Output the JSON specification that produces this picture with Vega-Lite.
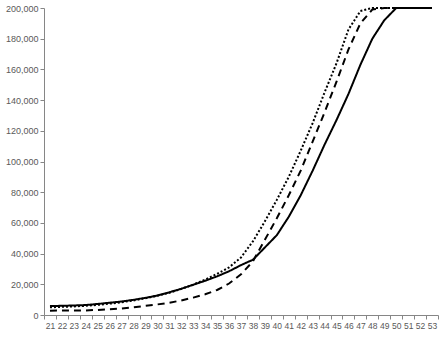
{
  "$schema": "https://vega.github.io/schema/vega-lite/v6.json",
  "width": 394,
  "height": 307,
  "autosize": {"type": "none"},
  "padding": {"left": 44, "top": 8, "right": 3, "bottom": 23},
  "background": "white",
  "config": {
    "view": {"stroke": null},
    "axis": {"labelFont": "Liberation Sans", "labelColor": "#595959", "domainColor": "#868686", "tickColor": "#868686", "grid": false, "title": null}
  },
  "datasets": {
    "d": [
      {"age":21,"s":"A","v":5800},{"age":22,"s":"A","v":6000},{"age":23,"s":"A","v":6200},{"age":24,"s":"A","v":6500},{"age":25,"s":"A","v":7200},{"age":26,"s":"A","v":8000},{"age":27,"s":"A","v":8800},{"age":28,"s":"A","v":9900},{"age":29,"s":"A","v":11200},{"age":30,"s":"A","v":12700},{"age":31,"s":"A","v":14800},{"age":32,"s":"A","v":17100},{"age":33,"s":"A","v":19700},{"age":34,"s":"A","v":22300},{"age":35,"s":"A","v":25200},{"age":36,"s":"A","v":28500},{"age":37,"s":"A","v":32500},{"age":38,"s":"A","v":36000},{"age":39,"s":"A","v":44000},{"age":40,"s":"A","v":52000},{"age":41,"s":"A","v":64000},{"age":42,"s":"A","v":78000},{"age":43,"s":"A","v":94000},{"age":44,"s":"A","v":111000},{"age":45,"s":"A","v":127000},{"age":46,"s":"A","v":144000},{"age":47,"s":"A","v":163000},{"age":48,"s":"A","v":180000},{"age":49,"s":"A","v":192000},{"age":50,"s":"A","v":200000},{"age":51,"s":"A","v":200000},{"age":52,"s":"A","v":200000},{"age":53,"s":"A","v":200000},
      {"age":21,"s":"B","v":2800},{"age":22,"s":"B","v":2900},{"age":23,"s":"B","v":3000},{"age":24,"s":"B","v":3000},{"age":25,"s":"B","v":3300},{"age":26,"s":"B","v":3700},{"age":27,"s":"B","v":4200},{"age":28,"s":"B","v":5000},{"age":29,"s":"B","v":6000},{"age":30,"s":"B","v":6900},{"age":31,"s":"B","v":8000},{"age":32,"s":"B","v":9500},{"age":33,"s":"B","v":11300},{"age":34,"s":"B","v":13500},{"age":35,"s":"B","v":16300},{"age":36,"s":"B","v":20500},{"age":37,"s":"B","v":26500},{"age":38,"s":"B","v":35000},{"age":39,"s":"B","v":49000},{"age":40,"s":"B","v":63000},{"age":41,"s":"B","v":78000},{"age":42,"s":"B","v":94000},{"age":43,"s":"B","v":113000},{"age":44,"s":"B","v":132000},{"age":45,"s":"B","v":152000},{"age":46,"s":"B","v":173000},{"age":47,"s":"B","v":190000},{"age":48,"s":"B","v":199000},{"age":49,"s":"B","v":200000},{"age":50,"s":"B","v":200000},{"age":51,"s":"B","v":200000},{"age":52,"s":"B","v":200000},{"age":53,"s":"B","v":200000},
      {"age":21,"s":"C","v":5000},{"age":22,"s":"C","v":5300},{"age":23,"s":"C","v":5600},{"age":24,"s":"C","v":6000},{"age":25,"s":"C","v":6600},{"age":26,"s":"C","v":7400},{"age":27,"s":"C","v":8300},{"age":28,"s":"C","v":9500},{"age":29,"s":"C","v":10900},{"age":30,"s":"C","v":12500},{"age":31,"s":"C","v":14500},{"age":32,"s":"C","v":17000},{"age":33,"s":"C","v":19800},{"age":34,"s":"C","v":23000},{"age":35,"s":"C","v":26800},{"age":36,"s":"C","v":31000},{"age":37,"s":"C","v":37500},{"age":38,"s":"C","v":48000},{"age":39,"s":"C","v":61000},{"age":40,"s":"C","v":75000},{"age":41,"s":"C","v":90000},{"age":42,"s":"C","v":107000},{"age":43,"s":"C","v":125000},{"age":44,"s":"C","v":145000},{"age":45,"s":"C","v":164000},{"age":46,"s":"C","v":186000},{"age":47,"s":"C","v":198000},{"age":48,"s":"C","v":200000},{"age":49,"s":"C","v":200000},{"age":50,"s":"C","v":200000},{"age":51,"s":"C","v":200000},{"age":52,"s":"C","v":200000},{"age":53,"s":"C","v":200000}
    ]
  },
  "data": {"name": "d"},
  "mark": {"type": "line", "color": "black", "strokeWidth": 2, "clip": false},
  "encoding": {
    "x": {
      "field": "age", "type": "ordinal",
      "scale": {"type": "band", "paddingInner": 0, "paddingOuter": 0},
      "axis": {"labelAngle": 0, "tickBand": "extent", "tickSize": 4, "labelPadding": 2, "labelFontSize": 8.5, "labelOverlap": false}
    },
    "y": {
      "field": "v", "type": "quantitative",
      "scale": {"domain": [0, 200000], "nice": false},
      "axis": {"values": [0,20000,40000,60000,80000,100000,120000,140000,160000,180000,200000], "format": ",.0f", "tickSize": 4, "labelPadding": 2, "labelFontSize": 9}
    },
    "strokeDash": {
      "field": "s", "type": "nominal",
      "scale": {"domain": ["A","B","C"], "range": [[1,0],[7,5],[2,2]]},
      "legend": null
    }
  }
}
